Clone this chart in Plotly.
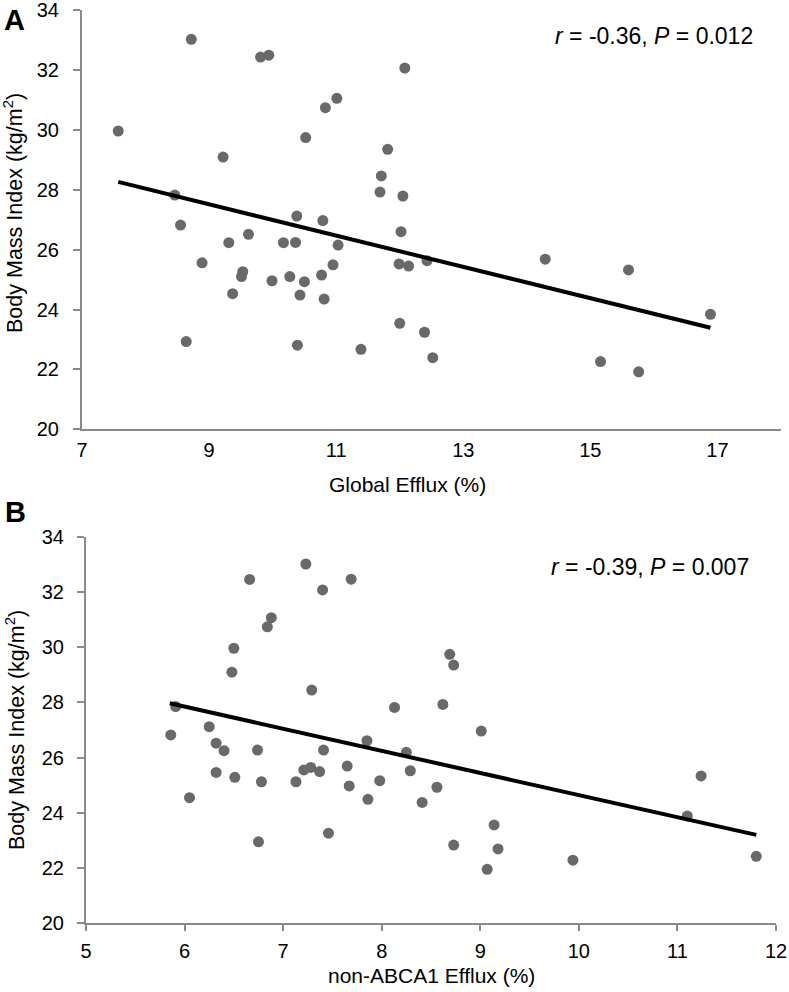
import plotly.graph_objects as go

# Panel A: Global efflux vs BMI
global_efflux = [7.57, 8.72, 9.81, 9.94, 9.22, 8.46, 8.55, 10.52, 10.83, 11.01, 10.38, 10.79,
                 11.71, 11.69, 11.81, 12.05, 12.08, 8.64, 8.89, 9.31, 9.37, 9.62, 9.53, 9.51,
                 9.99, 10.17, 10.27, 10.36, 10.50, 10.43, 10.39, 10.77, 10.81, 11.03, 10.95,
                 11.39, 12.02, 11.99, 12.14, 12.43, 12.00, 12.39, 12.52, 14.29, 15.60, 15.16,
                 15.76, 16.89]
bmi_a = [29.96, 33.02, 32.43, 32.49, 29.09, 27.82, 26.82, 29.74, 30.74, 31.05, 27.12, 26.97,
         28.46, 27.92, 29.35, 27.79, 32.06, 22.93, 25.56, 26.23, 24.53, 26.51, 25.26, 25.10,
         24.96, 26.23, 25.10, 26.24, 24.93, 24.48, 22.81, 25.15, 24.35, 26.15, 25.49,
         22.67, 26.60, 25.52, 25.45, 25.63, 23.54, 23.24, 22.39, 25.68, 25.32, 22.26,
         21.92, 23.84]
trend_a_x = [7.57, 16.89]
trend_a_y = [28.26, 23.39]

# Panel B: non-ABCA1 efflux vs BMI
nonabca1_efflux = [6.66, 7.23, 7.40, 7.69, 6.88, 6.84, 6.50, 6.48, 7.29, 8.13, 8.69, 8.73,
                   8.62, 5.91, 5.86, 6.25, 6.32, 6.40, 6.32, 6.51, 6.05, 6.74, 6.78, 6.75,
                   7.13, 7.21, 7.28, 7.37, 7.41, 7.46, 7.65, 7.67, 7.85, 7.86, 7.98, 9.01,
                   8.25, 8.29, 8.56, 8.41, 9.14, 8.73, 9.18, 9.07, 9.94, 11.24, 11.10, 11.80]
bmi_b = [32.47, 33.03, 32.09, 32.48, 31.08, 30.75, 29.97, 29.10, 28.45, 27.82, 29.75, 29.36,
         27.93, 27.85, 26.82, 27.12, 26.52, 26.25, 25.46, 25.28, 24.54, 26.27, 25.12, 22.94,
         25.12, 25.55, 25.64, 25.49, 26.27, 23.25, 25.69, 24.97, 26.61, 24.48, 25.16, 26.96,
         26.19, 25.52, 24.92, 24.37, 23.55, 22.82, 22.68, 21.94, 22.27, 25.33, 23.88, 22.41]
trend_b_x = [5.85, 11.80]
trend_b_y = [27.97, 23.19]

y_ticks = [20, 22, 24, 26, 28, 30, 32, 34]
x_ticks_a = [7, 9, 11, 13, 15, 17]
x_ticks_b = [5, 6, 7, 8, 9, 10, 11, 12]

W, H = 789, 992
FONT = "Liberation Sans, Arial, sans-serif"
DOT = "#696969"
AX = "#8a8a8a"

fig = go.Figure()
fig.add_trace(go.Scatter(x=global_efflux, y=bmi_a, mode="markers",
                         marker=dict(size=11, color=DOT), xaxis="x", yaxis="y"))
fig.add_trace(go.Scatter(x=trend_a_x, y=trend_a_y, mode="lines",
                         line=dict(color="black", width=4), xaxis="x", yaxis="y"))
fig.add_trace(go.Scatter(x=nonabca1_efflux, y=bmi_b, mode="markers",
                         marker=dict(size=11, color=DOT), xaxis="x2", yaxis="y2"))
fig.add_trace(go.Scatter(x=trend_b_x, y=trend_b_y, mode="lines",
                         line=dict(color="black", width=4), xaxis="x2", yaxis="y2"))

def px_x(p):
    return p / W

def px_y(p):
    return 1 - p / H

common_axis = dict(showgrid=False, zeroline=False, showline=True, linecolor=AX, linewidth=2,
                   automargin=False, ticklabeloverflow="allow",
                   tickfont=dict(family=FONT, size=20, color="black"))

fig.update_layout(
    width=W, height=H, margin=dict(l=0, r=0, t=0, b=0, autoexpand=False),
    paper_bgcolor="white", plot_bgcolor="white", showlegend=False,
    xaxis=dict(common_axis, domain=[px_x(82), px_x(781)], range=[7, 18], tickmode="array",
               tickvals=x_ticks_a, ticks="", anchor="y", ticklabelstandoff=2),
    yaxis=dict(common_axis, domain=[px_y(429.3), px_y(10)], range=[20, 34], tickmode="array",
               tickvals=y_ticks, ticks="outside", ticklen=7, tickwidth=2, tickcolor=AX,
               anchor="x", ticklabelstandoff=10),
    xaxis2=dict(common_axis, domain=[px_x(86), px_x(776)], range=[5, 12], tickmode="array",
                tickvals=x_ticks_b, ticks="outside", ticklen=6, tickwidth=2, tickcolor=AX,
                anchor="y2", ticklabelstandoff=3),
    yaxis2=dict(common_axis, domain=[px_y(922.7), px_y(537.3)], range=[20, 34], tickmode="array",
                tickvals=y_ticks, ticks="outside", ticklen=7, tickwidth=2, tickcolor=AX,
                anchor="x2", ticklabelstandoff=9),
)

ann = []
def add_text(text, x, y, size, angle=0):
    ann.append(dict(text=text, x=px_x(x), y=px_y(y), xref="paper", yref="paper",
                    showarrow=False, textangle=angle, xanchor="center", yanchor="middle",
                    font=dict(family=FONT, size=size, color="black")))

add_text("<b>A</b>", 14, 20, 29)
add_text("<b>B</b>", 15, 512, 29)
add_text("<i>r</i> = -0.36, <i>P</i> = 0.012", 654, 36, 23)
add_text("<i>r</i> = -0.39, <i>P</i> = 0.007", 650, 567, 23)
add_text("Global Efflux (%)", 407, 484, 21)
add_text("non-ABCA1 Efflux (%)", 431, 975, 21)
add_text("Body Mass Index (kg/m<sup>2</sup>)", 13, 213, 21.5, angle=-90)
add_text("Body Mass Index (kg/m<sup>2</sup>)", 15, 730, 21.5, angle=-90)
fig.update_layout(annotations=ann)

fig.write_html("out.html", config={"displayModeBar": False},
               post_script="document.body.style.margin='0';")
